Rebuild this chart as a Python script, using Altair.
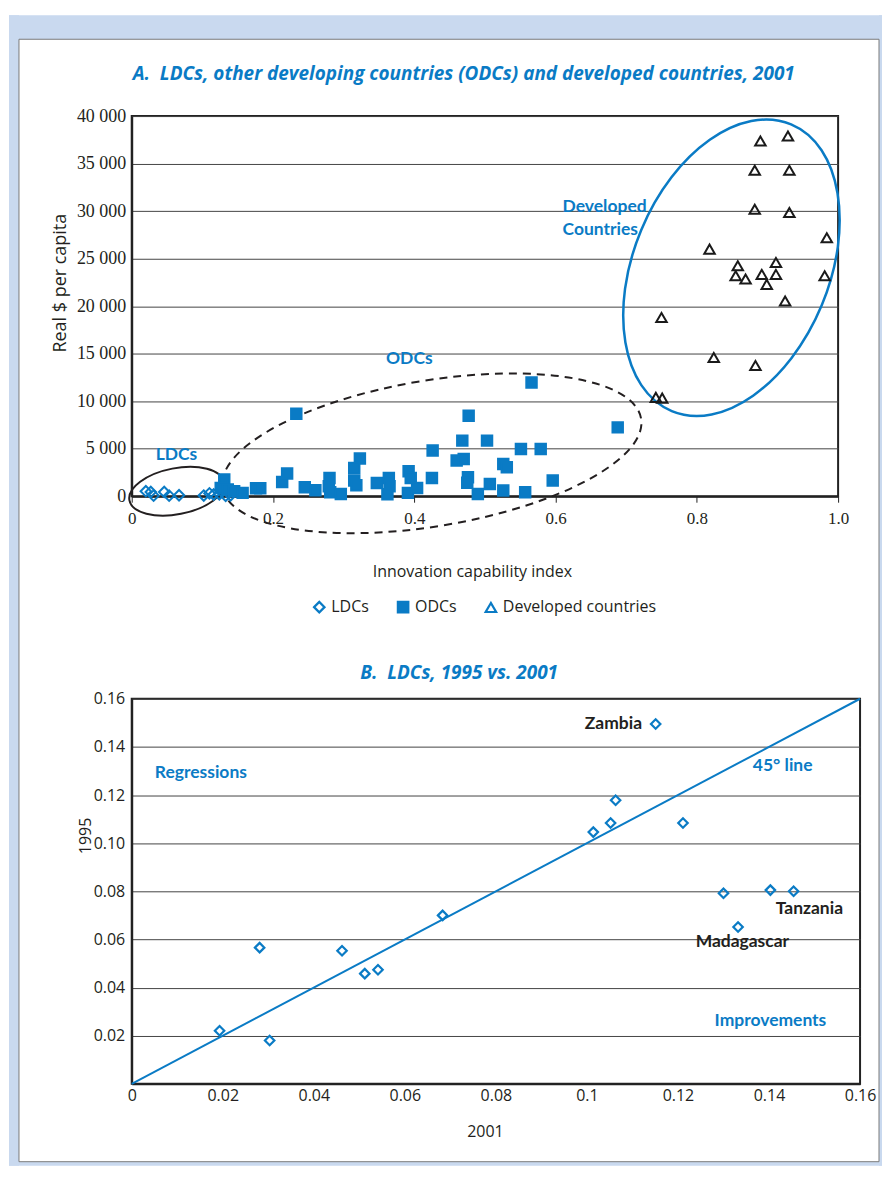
import altair as alt
import pandas as pd

BLUE = "#0a7bc5"
FRAME_BLUE = "#c9d9ef"
INK = "#231f20"

# ---------------- Panel A data (2001) ----------------
groups = ["LDCs", "ODCs", "Developed countries"]

ldc_x = [0.020, 0.027, 0.031, 0.046, 0.053, 0.067, 0.102, 0.110, 0.116, 0.124, 0.133, 0.140]
ldc_y = [525, 450, 60, 450, 60, 100, 70, 300, 180, 200, 50, 100]

odc_x = [0.131, 0.126, 0.136, 0.145, 0.157, 0.176, 0.182, 0.213, 0.220, 0.233,
         0.245, 0.260, 0.280, 0.279, 0.281, 0.296, 0.323, 0.315, 0.315, 0.318,
         0.347, 0.364, 0.365, 0.362, 0.392, 0.395, 0.391, 0.404, 0.425, 0.426,
         0.460, 0.470, 0.468, 0.477, 0.476, 0.475, 0.503, 0.490, 0.507, 0.526,
         0.531, 0.526, 0.551, 0.579, 0.557, 0.566, 0.596, 0.688]
odc_y = [1750, 870, 700, 525, 350, 840, 840, 1500, 2380, 8680,
         945, 630, 1920, 1050, 420, 240, 3960, 2970, 1650, 1155,
         1400, 1920, 1050, 210, 2625, 1920, 350, 870, 1920, 4800,
         3750, 3920, 5850, 8470, 2000, 1420, 5850, 240, 1290, 3390,
         3045, 600, 4970, 4970, 420, 11970, 1650, 7245]

dev_x = [0.890, 0.929, 0.882, 0.931, 0.882, 0.931, 0.984, 0.818, 0.858, 0.912, 0.855,
         0.869, 0.892, 0.912, 0.899, 0.981, 0.925, 0.750, 0.824, 0.883, 0.742, 0.751]
dev_y = [37375, 37900, 34300, 34300, 30200, 29850, 27190, 26000, 24250, 24600, 23200,
         22860, 23340, 23340, 22290, 23200, 20550, 18800, 14600, 13750, 10400, 10320]

a_x_ticks = [0, 0.2, 0.4, 0.6, 0.8, 1.0]
a_y_ticks = [0, 5000, 10000, 15000, 20000, 25000, 30000, 35000, 40000]

a_labels = ["Developed", "Countries", "ODCs", "LDCs"]
a_label_x = [0.610, 0.610, 0.360, 0.034]
a_label_y = [30450, 28035, 14385, 4305]

# group outlines (centre in data units)
ell_x = [0.0636, 0.425, 0.849]
ell_y = [525, 4514, 24042]

# ---------------- Panel B data (LDCs 1995 vs 2001) ----------------
b_2001 = [0.0193, 0.0303, 0.0281, 0.0462, 0.0512, 0.0541, 0.0683, 0.1014,
          0.1052, 0.1063, 0.1151, 0.1211, 0.1300, 0.1332, 0.1403, 0.1454]
b_1995 = [0.0221, 0.0180, 0.0566, 0.0553, 0.0458, 0.0474, 0.0700, 0.1046,
          0.1084, 0.1178, 0.1495, 0.1084, 0.0792, 0.0652, 0.0805, 0.0800]
b_ticks = [0, 0.02, 0.04, 0.06, 0.08, 0.10, 0.12, 0.14, 0.16]
line45 = [0, 0.16]

b_blue_labels = ["Regressions", "45° line", "Improvements"]
b_blue_x = [0.00508, 0.13644, 0.12805]
b_blue_y = [0.12916, 0.1319, 0.02624]
b_dark_labels = ["Tanzania", "Madagascar"]
b_dark_x = [0.14148, 0.12388]
b_dark_y = [0.0728, 0.0590]
b_right_labels = ["Zambia"]
b_right_x = [0.1121]
b_right_y = [0.1495]

# ---------------- build tables ----------------
df_pts = pd.DataFrame({
    "x": ldc_x + odc_x,
    "y": ldc_y + odc_y,
    "group": ["LDCs"] * len(ldc_x) + ["ODCs"] * len(odc_x),
})
df_dev = pd.DataFrame({"x": dev_x, "y": dev_y})
df_alab = pd.DataFrame({"x": a_label_x, "y": a_label_y, "label": a_labels})
df_b = pd.DataFrame({"x": b_2001, "y": b_1995})
df_line = pd.DataFrame({"x": line45, "y": line45})
one = pd.DataFrame({"k": [0]})

xA = alt.X("x:Q", scale=alt.Scale(domain=[0, 1], nice=False),
           axis=alt.Axis(values=a_x_ticks, title="Innovation capability index",
                         labelExpr="datum.value == 0 ? '0' : format(datum.value, '.1f')",
                         labelFont="Liberation Serif", labelFontSize=17, labelPadding=8,
                         labelFlush=False,
                         ticks=True, tickSize=6, tickColor="#222", grid=False,
                         titleFont="Open Sans", titleFontSize=16, titleFontWeight="normal",
                         titleX=341, titleY=75, titleBaseline="middle", titleAlign="center"))
yA = alt.Y("y:Q", scale=alt.Scale(domain=[0, 40000], nice=False),
           axis=alt.Axis(values=a_y_ticks, title="Real $ per capita",
                         labelExpr="replace(format(datum.value, ','), ',', ' ')",
                         labelFont="Liberation Serif", labelFontSize=18, labelPadding=6,
                         labelFlush=False,
                         ticks=False, grid=True,
                         titleFont="Open Sans", titleFontSize=18, titleFontWeight="normal",
                         titleX=-71, titleY=167, titleBaseline="middle", titleAlign="center"))


def strip(x1, x2, y1, y2):
    return alt.Chart(one).mark_rect(fill=FRAME_BLUE, strokeWidth=0).encode(
        x=alt.value(x1), x2=alt.value(x2), y=alt.value(y1), y2=alt.value(y2))


frame = [
    strip(-123, -113, -101, 1052),
    strip(749, 752, -101, 1052),
    strip(-123, 752, -101, -77),
    strip(-123, 752, 1048, 1052),
    alt.Chart(one).mark_rect(fill="white", fillOpacity=0, stroke="#7a7a7a", strokeWidth=1).encode(
        x=alt.value(-113), x2=alt.value(749), y=alt.value(-77), y2=alt.value(1048)),
]


def ellipse(i, ratio, size, angle, color, width, dash=None):
    path = f"M -1 0 A 1 {ratio} 0 1 0 1 0 A 1 {ratio} 0 1 0 -1 0 Z"
    kw = dict(shape=path, size=size, angle=angle, stroke=color, strokeWidth=width,
              filled=False, opacity=1)
    if dash:
        kw["strokeDash"] = dash
    d = pd.DataFrame({"x": [ell_x[i]], "y": [ell_y[i]]})
    return alt.Chart(d).mark_point(**kw).encode(x=xA, y=yA)


ells = [
    ellipse(0, 0.479, 9293, 349, INK, 2),
    ellipse(1, 0.344, 180625, 350.6, INK, 2, [8, 6]),
    ellipse(2, 0.630, 96840, 292.6, BLUE, 2.5),
]

legend = alt.Legend(title=None, orient="none", direction="horizontal",
                    legendX=180, legendY=484, padding=0,
                    labelFont="Open Sans", labelFontSize=16, labelColor=INK,
                    labelOffset=4, columnPadding=24, symbolSize=110,
                    symbolStrokeWidth=2.2)

pts = alt.Chart(df_pts).mark_point(strokeWidth=2, size=110, opacity=1).encode(
    x=xA, y=yA,
    shape=alt.Shape("group:N", scale=alt.Scale(domain=groups, range=["diamond", "square", "triangle-up"]),
                    legend=legend),
    fill=alt.Fill("group:N", scale=alt.Scale(domain=groups, range=["transparent", BLUE, "transparent"]),
                  legend=legend),
    stroke=alt.Stroke("group:N", scale=alt.Scale(domain=groups, range=[BLUE, BLUE, BLUE]),
                      legend=legend),
)

dev = alt.Chart(df_dev).mark_point(shape="triangle-up", stroke="#1a1a1a", strokeWidth=2,
                                   size=110, filled=False, opacity=1).encode(x=xA, y=yA)

alab = alt.Chart(df_alab).mark_text(align="left", baseline="middle", font="Lato", fontSize=17.5,
                                    fontWeight="bold", color=BLUE).encode(x=xA, y=yA, text="label:N")

titleA = alt.Chart(one).mark_text(
    text="A.\u00a0 LDCs, other developing countries (ODCs) and developed countries, 2001",
    align="left", baseline="middle", font="Open Sans", fontSize=19, fontStyle="italic",
    fontWeight="bold", color=BLUE).encode(x=alt.value(1), y=alt.value(-42))

panelA = alt.layer(*frame, *ells, pts, dev, alab, titleA).properties(width=708, height=381)

# ---------------- Panel B ----------------
xB = alt.X("x:Q", scale=alt.Scale(domain=[0, 0.16], nice=False),
           axis=alt.Axis(values=b_ticks, title="2001", labelExpr="format(datum.value, '~g')",
                         labelFont="Open Sans", labelFontSize=16, labelPadding=4,
                         labelFlush=False,
                         ticks=False, grid=False,
                         titleFont="Open Sans", titleFontSize=16, titleFontWeight="normal",
                         titleX=354, titleY=48, titleBaseline="middle", titleAlign="center"))
yB = alt.Y("y:Q", scale=alt.Scale(domain=[0, 0.16], nice=False),
           axis=alt.Axis(values=b_ticks, title="1995",
                         labelExpr="datum.value == 0 ? '' : format(datum.value, '.2f')",
                         labelFont="Open Sans", labelFontSize=16, labelPadding=7,
                         labelFlush=False,
                         ticks=False, grid=True,
                         titleFont="Open Sans", titleFontSize=16, titleFontWeight="normal",
                         titleX=-46, titleY=137, titleBaseline="middle", titleAlign="center"))

lineB = alt.Chart(df_line).mark_line(color=BLUE, strokeWidth=2).encode(x=xB, y=yB)
ptsB = alt.Chart(df_b).mark_point(shape="diamond", stroke=BLUE, strokeWidth=2.2, size=90,
                                  filled=False, opacity=1).encode(x=xB, y=yB)
labB1 = alt.Chart(pd.DataFrame({"x": b_blue_x, "y": b_blue_y, "label": b_blue_labels})).mark_text(
    align="left", baseline="middle", font="Lato", fontSize=17.5, fontWeight="bold", color=BLUE
).encode(x=xB, y=yB, text="label:N")
labB2 = alt.Chart(pd.DataFrame({"x": b_dark_x, "y": b_dark_y, "label": b_dark_labels})).mark_text(
    align="left", baseline="middle", font="Lato", fontSize=17.5, fontWeight="bold", color=INK
).encode(x=xB, y=yB, text="label:N")
labB3 = alt.Chart(pd.DataFrame({"x": b_right_x, "y": b_right_y, "label": b_right_labels})).mark_text(
    align="right", baseline="middle", font="Lato", fontSize=17.5, fontWeight="bold", color=INK
).encode(x=xB, y=yB, text="label:N")
titleB = alt.Chart(one).mark_text(
    text="B.\u00a0 LDCs, 1995 vs. 2001",
    align="left", baseline="middle", font="Open Sans", fontSize=19, fontStyle="italic",
    fontWeight="bold", color=BLUE).encode(x=alt.value(229), y=alt.value(-26))

panelB = alt.layer(lineB, ptsB, labB1, labB2, labB3, titleB).properties(width=730, height=386)

chart = alt.vconcat(panelA, panelB, spacing=203, bounds="flush").properties(
    padding={"left": 0, "top": 5, "right": 0, "bottom": 0}, background="white"
).configure_view(stroke="#222", strokeWidth=2).configure_axis(
    labelColor=INK, titleColor=INK, gridColor="#444", gridWidth=1,
    domainColor="#222", domainWidth=2
)

chart.save("out.html", embed_options={"renderer": "svg", "actions": False})
